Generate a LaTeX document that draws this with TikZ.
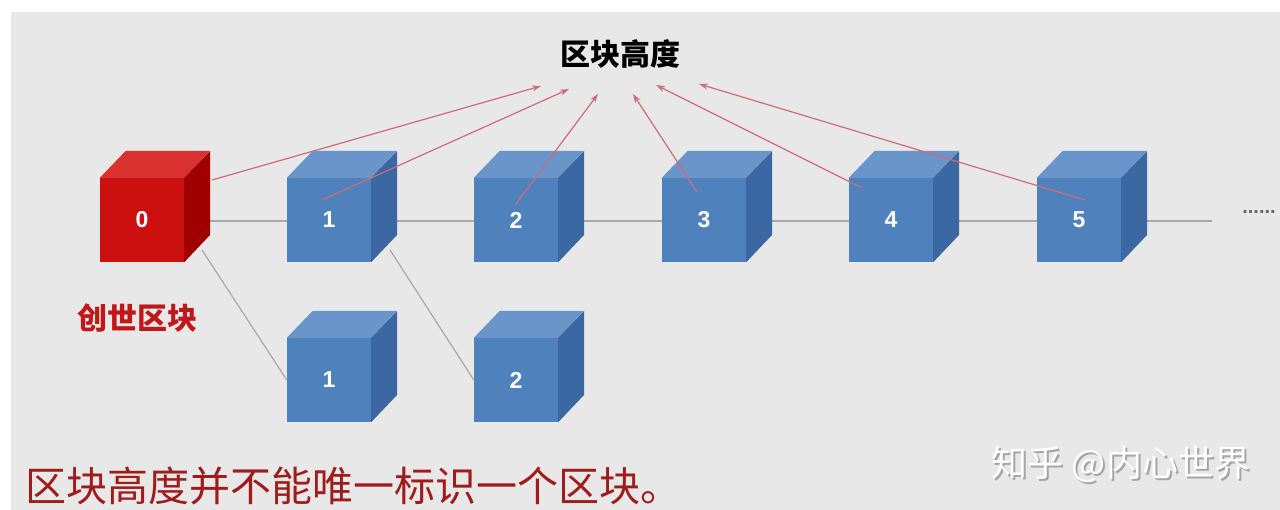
\documentclass[tikz,border=0pt]{standalone}
\usepackage{fontspec}
\newfontfamily\cjk{Noto Sans CJK SC}
\newfontfamily\numfont{Liberation Sans}
\usetikzlibrary{arrows.meta,calc}
\definecolor{bgc}{HTML}{E8E8E8}
\definecolor{bfront}{HTML}{4F81BD}
\definecolor{btop}{HTML}{6A95CA}
\definecolor{bside}{HTML}{3B67A3}
\definecolor{rfront}{HTML}{CC1010}
\definecolor{rtop}{HTML}{D93030}
\definecolor{rside}{HTML}{A00000}
\definecolor{arrc}{HTML}{D06A78}
\definecolor{linec}{HTML}{A8A8A8}
\definecolor{notec}{HTML}{A01C1C}
\definecolor{genc}{HTML}{C01818}
\tikzset{
  face/.style={minimum width=84pt,minimum height=84pt,inner sep=0pt,
    text=white,font=\numfont\bfseries\fontsize{23}{23}\selectfont},
  bluecube/.style={face,fill=bfront},
  redcube/.style={face,fill=rfront},
  hline/.style={draw=linec,line width=1.6pt},
  dline/.style={draw=linec,line width=1.2pt},
  harrow/.style={draw=arrc,line width=1.2pt,-{Stealth[length=9pt,width=6pt]}},
  cjkbold/.style={font=\cjk\bfseries\fontsize{30}{30}\selectfont}
}
\newcommand{\cubefaces}[3]{%
  \fill[#2] (#1.north west) -- ++(26,-27) -- ++(84,0) -- (#1.north east) -- cycle;
  \fill[#3] (#1.north east) -- ++(26,-27) -- ++(0,84) -- (#1.south east) -- cycle;
}
\begin{document}
\begin{tikzpicture}[x=1pt,y=-1pt]
\useasboundingbox (0,0) rectangle (1280,510);
\fill[white] (0,0) rectangle (1280,510);
\fill[bgc] (11,12) rectangle (1280,510);

\coordinate (lineend) at (1212,221);
\coordinate (s0) at (202,250);
\coordinate (s1) at (390,250);

\path (142,221) coordinate (p0);
\draw[hline] (p0) -- (lineend);
\node[text=gray!80!black,font=\numfont\bfseries\fontsize{20}{20}\selectfont] (dots) at (1259,212) {......};

\node[redcube] (b0) at (142,220) {0};
\cubefaces{b0}{rtop}{rside}
\node[bluecube] (b1) at (329,220) {1};
\cubefaces{b1}{btop}{bside}
\node[bluecube] (b2) at (516,220) {2};
\cubefaces{b2}{btop}{bside}
\node[bluecube] (b3) at (704,220) {3};
\cubefaces{b3}{btop}{bside}
\node[bluecube] (b4) at (891,220) {4};
\cubefaces{b4}{btop}{bside}
\node[bluecube] (b5) at (1079,220) {5};
\cubefaces{b5}{btop}{bside}

\node[bluecube] (c1) at (329,380) {1};
\cubefaces{c1}{btop}{bside}
\node[bluecube] (c2) at (516,380) {2};
\cubefaces{c2}{btop}{bside}

\draw[dline] (s0) -- (c1.west);
\draw[dline] (s1) -- (c2.west);

\node[cjkbold,text=black] (title) at (620,54) {区块高度};
\coordinate (t0) at (541,86);
\coordinate (t1) at (569,89);
\coordinate (t2) at (598,94);
\coordinate (t3) at (633,94);
\coordinate (t4) at (656,85);
\coordinate (t5) at (699,84);
\coordinate (a0) at (212,180);
\coordinate (a1) at (322,200);
\coordinate (a2) at (515,205);
\coordinate (a3) at (697,192);
\coordinate (a4) at (862,188);
\coordinate (a5) at (1085,200);
\draw[harrow] (a0) -- (t0);
\draw[harrow] (a1) -- (t1);
\draw[harrow] (a2) -- (t2);
\draw[harrow] (a3) -- (t3);
\draw[harrow] (a4) -- (t4);
\draw[harrow] (a5) -- (t5);

\node[cjkbold,text=genc] (genesis) at (137,318) {创世区块};
\node[font=\cjk\fontsize{41}{41}\selectfont,text=notec,anchor=west] (note) at (22,486) {区块高度并不能唯一标识一个区块。};
\node[font=\cjk\fontsize{36}{36}\selectfont,text=gray!70] (wm0) at (1123,466) {知乎 @内心世界};
\node[font=\cjk\fontsize{36}{36}\selectfont,text=white] (wm) at (1121,464) {知乎 @内心世界};
\end{tikzpicture}
\end{document}
